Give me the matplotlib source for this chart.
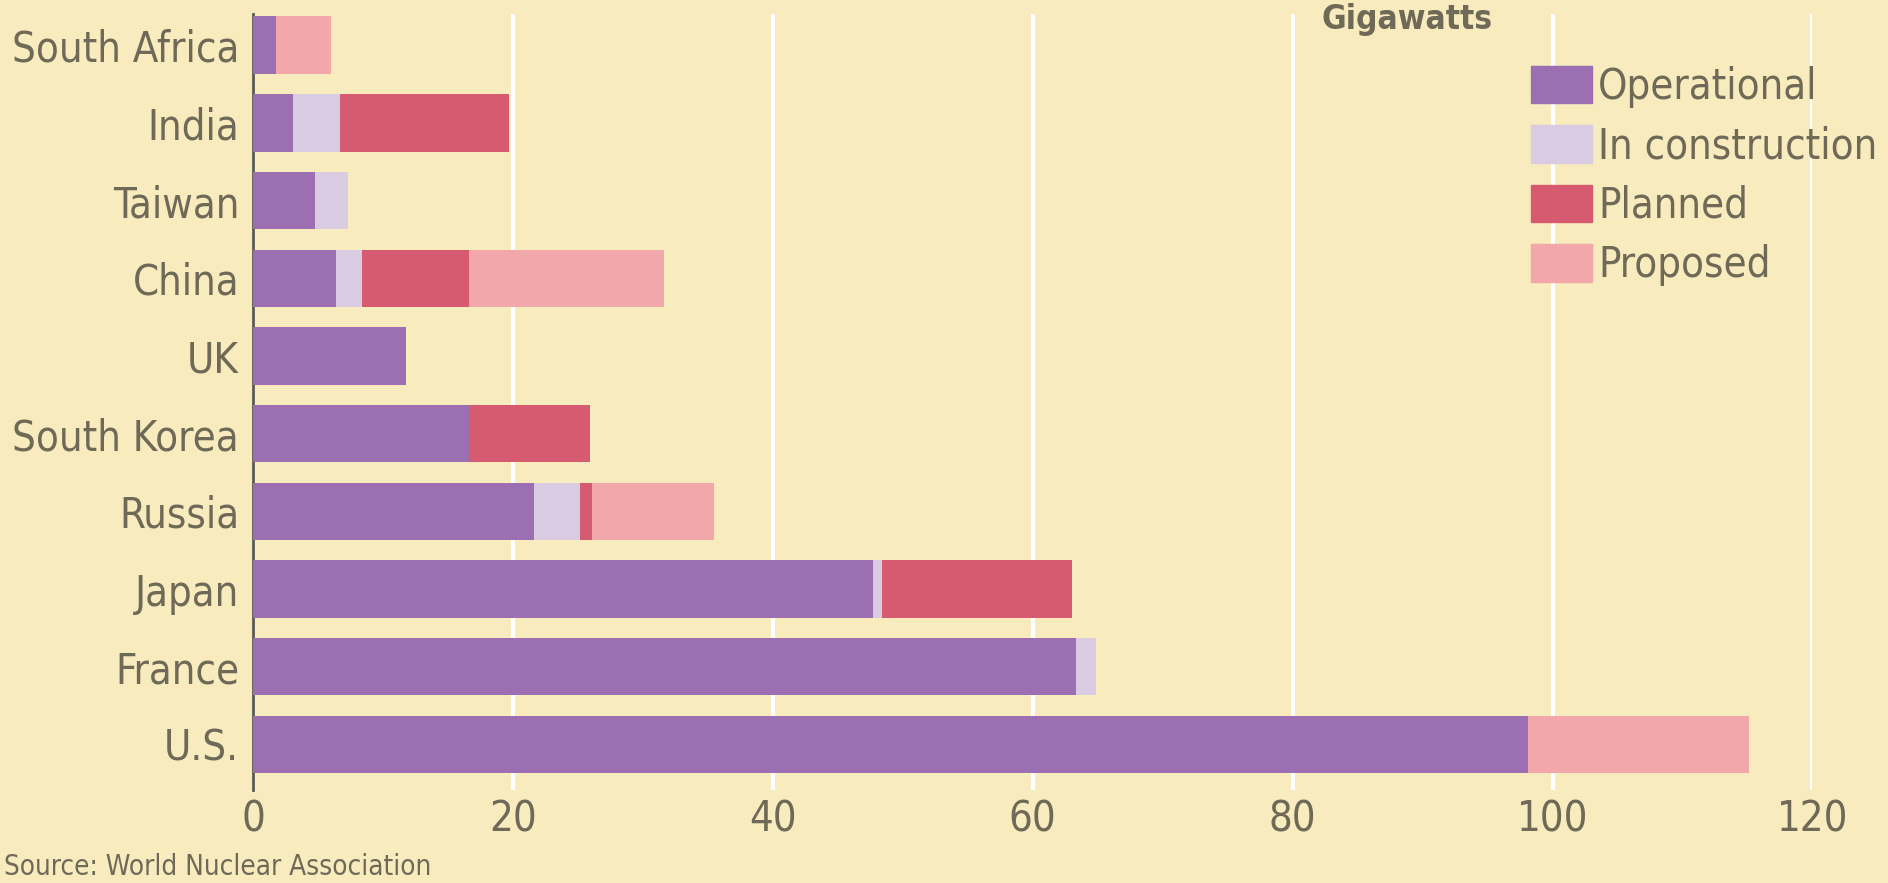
import matplotlib.pyplot as plt
import numpy as np
from matplotlib.patches import Patch

countries = ['U.S.', 'France', 'Japan', 'Russia', 'South Korea', 'UK',
             'China', 'Taiwan', 'India', 'South Africa']
operational  = [98.1, 63.3, 47.7, 21.6, 16.7, 11.8, 6.4, 4.8, 3.1, 1.8]
construction = [0.0,  1.6,  0.7,  3.6,  0.0,  0.0,  2.0, 2.5, 3.6, 0.0]
planned      = [0.0,  0.0, 14.6,  0.9,  9.2,  0.0,  8.2, 0.0, 13.0, 0.0]
proposed     = [17.0, 0.0,  0.0,  9.4,  0.0,  0.0, 15.0, 0.0, 0.0, 4.2]
series = ['Operational', 'In construction', 'Planned', 'Proposed']
xticks = [0, 20, 40, 60, 80, 100, 120]

bg = '#f8ebbd'
txt = '#6f6a58'
colors = ['#9b6fb2', '#d9cbe2', '#d65b70', '#f2a7aa']

plt.rcParams['font.family'] = ['DejaVu Sans']
plt.rcParams['font.stretch'] = 'condensed'

fig = plt.figure(figsize=(18.88, 8.83), dpi=100, facecolor=bg)
ax = fig.add_axes([0.134, 0.105, 0.826, 0.879], facecolor=bg)

y = np.arange(len(countries))
left = np.zeros(len(countries))
for vals, c in zip([operational, construction, planned, proposed], colors):
    ax.barh(y, vals, left=left, height=0.74, color=c, zorder=3)
    left = left + np.array(vals)

ax.set_xlim(0, 120)
ax.set_ylim(-0.59, 9.4)
ax.set_xticks(xticks)
ax.set_yticks(y)
ax.set_yticklabels(countries)
ax.tick_params(length=0, labelsize=30, colors=txt, pad=10)
ax.tick_params(axis='x', pad=6)
ax.grid(axis='x', color='white', linewidth=3, zorder=1)
for s in ['top', 'right', 'bottom']:
    ax.spines[s].set_visible(False)
ax.spines['left'].set_color('#5a5a50')
ax.spines['left'].set_linewidth(2)

handles = [Patch(color=c) for c in colors]
leg = ax.legend(handles, series, loc='upper left', bbox_to_anchor=(0.809, 0.955),
                frameon=False, fontsize=30, labelcolor=txt, handlelength=1.45,
                handleheight=1.0, handletextpad=0.15, labelspacing=0.42,
                borderaxespad=0)

fig.text(0.745, 0.997, 'Gigawatts', fontsize=24, fontweight='bold', color=txt,
         ha='center', va='top')
fig.text(0.002, 0.002, 'Source: World Nuclear Association', fontsize=20,
         color=txt, ha='left', va='bottom')

plt.savefig('out.png', dpi=100, facecolor=bg)
